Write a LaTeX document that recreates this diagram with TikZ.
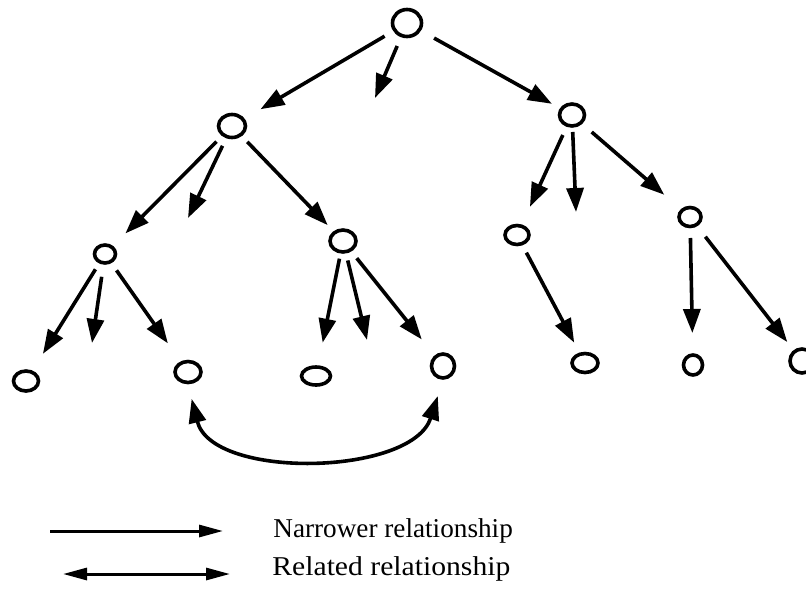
\documentclass[tikz,border=0pt]{standalone}
\usepackage{fontspec}
\setmainfont{Liberation Serif}
\usetikzlibrary{arrows.meta,shapes.geometric}

\tikzset{
  concept/.style 2 args={draw, ellipse, line width=1.8pt, inner sep=0pt,
    minimum width=#1, minimum height=#2},
  narrower/.style={line width=1.8pt, -{Triangle[length=12pt,width=8.5pt]}},
  related/.style={line width=1.8pt, {Triangle[length=12pt,width=8.5pt]}-{Triangle[length=12pt,width=8.5pt]}},
  keyarrow/.style={line width=1.5pt, -{Triangle[length=12pt,width=6pt]}},
  keyboth/.style={line width=1.5pt, {Triangle[length=12pt,width=6pt]}-{Triangle[length=12pt,width=6pt]}},
  keytext/.style={anchor=base west, inner sep=0pt, font=\fontsize{13.6pt}{16pt}\selectfont}
}

\begin{document}
\begin{tikzpicture}[x=0.5pt,y=-0.5pt]
  \clip (0,0) rectangle (806,589);

  % concepts of the hierarchy
  \node[concept={14.5pt}{13.5pt}](root) at (407,23)  {};
  \node[concept={13.5pt}{11.5pt}](a)    at (232,126) {};
  \node[concept={12.5pt}{11pt}]  (b)    at (572,115) {};
  \node[concept={10.5pt}{9pt}]   (c)    at (105,254) {};
  \node[concept={13pt}{11pt}]    (d)    at (343,241) {};
  \node[concept={12pt}{9.5pt}]   (e)    at (517,235) {};
  \node[concept={11pt}{9.5pt}]   (f)    at (690,217) {};
  \node[concept={12.5pt}{10pt}]  (l1)   at (26,381)  {};
  \node[concept={13pt}{10.5pt}]  (l2)   at (188,372) {};
  \node[concept={14.5pt}{9pt}]   (l3)   at (316,376) {};
  \node[concept={11.5pt}{12pt}]  (l4)   at (443,366) {};
  \node[concept={13pt}{9.5pt}]   (l5)   at (585,363) {};
  \node[concept={9.5pt}{10pt}]   (l6)   at (693,365) {};
  \node[concept={12pt}{12pt}]    (l7)   at (802,361) {};

  % open ends of narrower links that lead to no drawn concept
  \coordinate (o1) at (375,98);
  \coordinate (o2) at (188,218);
  \coordinate (o3) at (576,212);
  \coordinate (o4) at (92,343);
  \coordinate (o5) at (367,340);

  % narrower relationships
  \draw[narrower, shorten <=13pt,   shorten >=16.5pt] (root.center) -- (a.center);
  \draw[narrower, shorten <=12.5pt]                   (root.center) -- (o1);
  \draw[narrower, shorten <=15.5pt, shorten >=11.5pt] (root.center) -- (b.center);

  \draw[narrower, shorten <=11pt,   shorten >=14.5pt] (a.center) -- (c.center);
  \draw[narrower, shorten <=11pt]                     (a.center) -- (o2);
  \draw[narrower, shorten <=11pt,   shorten >=11pt]   (a.center) -- (d.center);

  \draw[narrower, shorten <=11pt,   shorten >=15.5pt] (b.center) -- (e.center);
  \draw[narrower, shorten <=8.5pt]                    (b.center) -- (o3);
  \draw[narrower, shorten <=13pt,   shorten >=17pt]   (b.center) -- (f.center);

  \draw[narrower, shorten <=9pt,    shorten >=16pt]   (c.center) -- (l1.center);
  \draw[narrower, shorten <=11.5pt]                   (c.center) -- (o4);
  \draw[narrower, shorten <=10pt,   shorten >=17.5pt] (c.center) -- (l2.center);

  \draw[narrower, shorten <=9pt,    shorten >=17pt]   (d.center) -- (l3.center);
  \draw[narrower, shorten <=10pt]                     (d.center) -- (o5);
  \draw[narrower, shorten <=11pt,   shorten >=17pt]   (d.center) -- (l4.center);

  \draw[narrower, shorten <=10pt,   shorten >=11.5pt] (e.center) -- (l5.center);

  \draw[narrower, shorten <=10.5pt, shorten >=16pt]   (f.center) -- (l6.center);
  \draw[narrower, shorten <=12.5pt, shorten >=12pt]   (f.center) -- (l7.center);

  % related relationship between two leaf concepts
  \draw[related, shorten <=7.5pt, shorten >=8.5pt]
    (l2.south) .. controls (212,480) and (412,476) .. (l4.south);

  % key
  \coordinate (k1) at (50,531);
  \coordinate (k2) at (223,531);
  \coordinate (k3) at (63,574);
  \coordinate (k4) at (230,574);
  \draw[keyarrow] (k1) -- (k2);
  \draw[keyboth]  (k3) -- (k4);
  \node[keytext] (t1) at (273,537) {Narrower relationship};
  \node[keytext] (t2) at (272,575) {\scalebox{1.09}[1]{Related relationship}};
\end{tikzpicture}
\end{document}
